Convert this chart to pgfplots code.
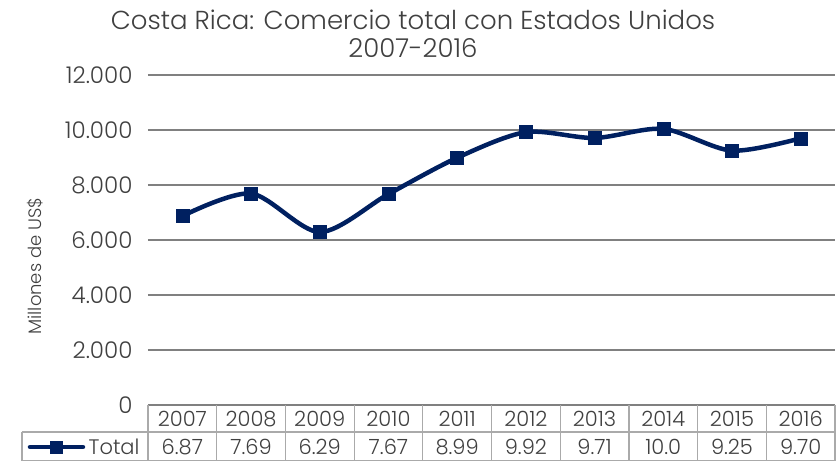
\documentclass[border=0pt]{standalone}
\usepackage{fontspec}
\setmainfont{Poppins}[UprightFont=* Light]
\usepackage{pgfplots}
\pgfplotsset{compat=1.18}
\definecolor{navy}{RGB}{0,32,96}
\definecolor{gridgray}{RGB}{128,128,128}
\definecolor{txt}{RGB}{64,64,64}
\definecolor{tbl}{RGB}{170,170,170}

\begin{document}
\begin{tikzpicture}
\begin{axis}[
    name=ax, at={(0,0)}, anchor=south west,
    scale only axis, width=687pt, height=330pt,
    xmin=-0.5, xmax=9.5, ymin=0, ymax=12000,
    ytick={0,2000,...,12000}, xtick=\empty,
    scaled y ticks=false,
    ymajorgrids, grid style={gridgray, line width=1.6pt},
    axis line style={draw=none}, major tick length=0pt,
    /pgf/number format/fixed, /pgf/number format/precision=0,
    /pgf/number format/1000 sep={.},
    /pgf/number format/assume math mode=true,
    yticklabel style={font=\fontsize{23}{24}\selectfont, text=txt, xshift=-12pt},
    clip=false,
]
    \addplot[navy, line width=4.5pt, smooth, mark=square*,
        mark size=6.5pt, mark options={solid, line width=0.4pt, fill=navy}]
        coordinates {(0,6870) (1,7690) (2,6290) (3,7670) (4,8990)
                     (5,9920) (6,9710) (7,10040) (8,9250) (9,9700)};
\end{axis}

% titulo y etiqueta del eje
\node[anchor=north, align=center, text=txt, font=\fontsize{26}{28}\selectfont]
    at (265pt,399pt) {Costa Rica: Comercio total con Estados Unidos\\2007-2016};
\node[rotate=90, text=txt, font=\fontsize{18}{20}\selectfont] at (-113pt,139pt) {Millones de US\$};

% tabla de datos
\foreach \k in {0,...,10} {
    \draw[tbl, line width=1.2pt] ({68.7*\k*1pt},0) -- ({68.7*\k*1pt},-56pt);
}
\draw[tbl, line width=1.2pt] (-126pt,-27pt) -- (687pt,-27pt);
\draw[tbl, line width=1.2pt] (-126pt,-27pt) -- (-126pt,-56pt);
\draw[tbl, line width=1.2pt] (-126pt,-55.5pt) -- (687pt,-55.5pt);
\foreach \y [count=\i from 0] in {2007,...,2016} {
    \node[text=txt, font=\fontsize{21}{24}\selectfont] at ({68.7*(\i+0.5)*1pt},-14pt) {\y};
}
\foreach \v [count=\i from 0] in {6.87,7.69,6.29,7.67,8.99,9.92,9.71,10.0,9.25,9.70} {
    \node[text=txt, font=\fontsize{21}{24}\selectfont] at ({68.7*(\i+0.5)*1pt},-42pt) {\v};
}
\draw[navy, line width=4.5pt, line cap=round] (-118pt,-42pt) -- (-65pt,-42pt);
\fill[navy] (-97.5pt,-48.5pt) rectangle (-84.5pt,-35.5pt);
\node[anchor=east, text=txt, font=\fontsize{21}{24}\selectfont] at (-5pt,-42pt) {Total};

\pgfresetboundingbox
\path (-148pt,-56pt) rectangle (689pt,405pt);
\end{tikzpicture}
\end{document}
